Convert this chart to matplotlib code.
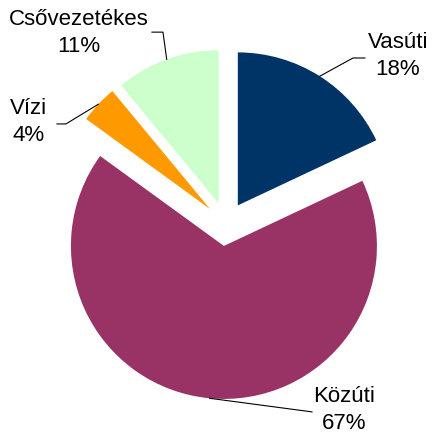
import matplotlib.pyplot as plt
import numpy as np

# Data
labels = ["Vasúti", "Közúti", "Vízi", "Csővezetékes"]
shares = [18, 67, 4, 11]
colors = ["#003366", "#993366", "#FF9900", "#CCFFCC"]

# label text centres and leader elbows (axes data units, pie radius = 1)
label_pos = [(1.124, 1.098), (0.771, -1.216), (-1.288, 0.667), (-0.961, 1.248)]
elbows = [[(0.830, 1.085), (0.908, 1.085)],
          [(0.562, -1.228)],
          [(-1.046, 0.654), (-1.105, 0.654)],
          [(-0.412, 1.254), (-0.484, 1.254)]]

plt.rcParams['font.family'] = ['Liberation Sans', 'DejaVu Sans']

fig = plt.figure(figsize=(4.32, 4.34), dpi=100)
ax = fig.add_axes([0, 0, 1, 1])

wedges, _ = ax.pie(shares, colors=colors, startangle=90, counterclock=False,
                   explode=[0.144] * 4, radius=1,
                   wedgeprops=dict(linewidth=0))

for w, lab, val, pos, elb in zip(wedges, labels, shares, label_pos, elbows):
    mid = np.deg2rad((w.theta1 + w.theta2) / 2)
    cx, cy = w.center
    start = (cx + w.r * np.cos(mid), cy + w.r * np.sin(mid))
    pts = [start] + elb
    ax.plot([p[0] for p in pts], [p[1] for p in pts], color="black", lw=0.8)
    ax.text(pos[0], pos[1], f"{lab}\n{val}%", ha="center", va="center",
            fontsize=16, linespacing=1.4, color="black")

ax.set_xlim(-226 / 153, (432 - 226) / 153)
ax.set_ylim(-(434 - 224) / 153, 224 / 153)
ax.set_aspect("equal")
ax.axis("off")

plt.savefig("out.png", dpi=100)
